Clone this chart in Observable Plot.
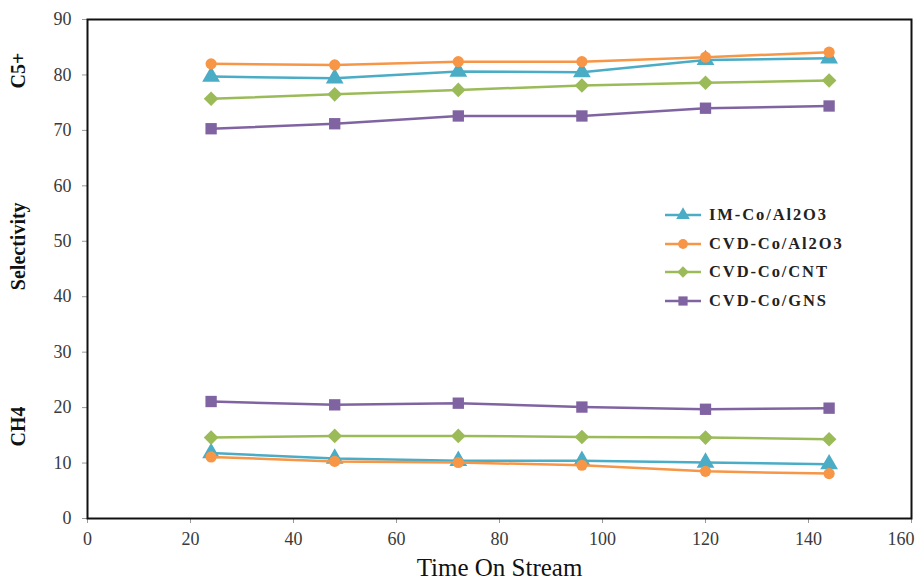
<!DOCTYPE html>
<html><head><meta charset="utf-8">
<script src="https://cdn.jsdelivr.net/npm/d3@7"></script>
<script src="https://cdn.jsdelivr.net/npm/@observablehq/plot@0.6"></script>
<style>
body{margin:0;background:#fff;}
#wrap{position:relative;width:915px;height:582px;font-family:"Liberation Serif","Times New Roman",serif;}
#legend{position:absolute;left:664px;top:201px;}
.li{display:flex;align-items:center;height:28.5px;font-size:16.5px;font-weight:bold;letter-spacing:1.9px;color:#222;}
.li svg{margin-right:7px;}
</style>
</head><body><div id="wrap"><div id="legend"></div></div>
<script>
const times = [24, 48, 72, 96, 120, 144];
const series = ["IM-Co/Al2O3", "CVD-Co/Al2O3", "CVD-Co/CNT", "CVD-Co/GNS"];
const colors = ["#4bacc6", "#f79646", "#9bbb59", "#8064a2"];
const symbols = ["triangle", "circle", "diamond2", "square"];
const markerR = [6.6, 5.6, 6.6, 6.4];
// C5+ selectivity
const c5_IM = [79.7, 79.4, 80.6, 80.5, 82.7, 83.0];
const c5_CVDAl = [82.0, 81.8, 82.4, 82.4, 83.2, 84.1];
const c5_CNT = [75.7, 76.5, 77.3, 78.1, 78.6, 79.0];
const c5_GNS = [70.3, 71.2, 72.6, 72.6, 74.0, 74.4];
// CH4 selectivity
const ch4_IM = [11.8, 10.8, 10.4, 10.4, 10.1, 9.8];
const ch4_CVDAl = [11.1, 10.3, 10.1, 9.6, 8.5, 8.1];
const ch4_CNT = [14.6, 14.9, 14.9, 14.7, 14.6, 14.3];
const ch4_GNS = [21.1, 20.5, 20.8, 20.1, 19.7, 19.9];
const xTicks = [0, 20, 40, 60, 80, 100, 120, 140, 160];
const yTicks = [0, 10, 20, 30, 40, 50, 60, 70, 80, 90];
const yTitles = ["C5+", "Selectivity", "CH4"];
const yTitleAt = [80.8, 49.1, 16.6];
const xTitle = "Time On Stream";

const c5 = [c5_IM, c5_CVDAl, c5_CNT, c5_GNS];
const ch4 = [ch4_IM, ch4_CVDAl, ch4_CNT, ch4_GNS];
const rows = [];
series.forEach((s, i) => {
  times.forEach((t, j) => {
    rows.push({series: s, group: "C5+", t, v: c5[i][j], r: markerR[i]});
  });
  times.forEach((t, j) => {
    rows.push({series: s, group: "CH4", t, v: ch4[i][j], r: markerR[i]});
  });
});

const marks = [];
series.forEach((s) => {
  const d = rows.filter(r => r.series === s);
  marks.push(Plot.line(d, {x: "t", y: "v", z: "group", stroke: "series", strokeWidth: 2.5}));
  marks.push(Plot.dot(d, {x: "t", y: "v", fill: "series", symbol: "series", r: "r", stroke: "none"}));
});

const lastX = xTicks[xTicks.length - 1];
const axisStyle = {fontSize: 18, label: null, stroke: "#999", fill: "#3a3a3a"};

const chart = Plot.plot({
  width: 915, height: 582,
  marginLeft: 87, marginRight: 4, marginTop: 19, marginBottom: 64,
  style: {fontFamily: "'Liberation Serif','Times New Roman',serif", background: "white"},
  x: {domain: [0, 160]},
  y: {domain: [0, 90]},
  r: {type: "identity"},
  color: {domain: series, range: colors},
  symbol: {domain: series, range: symbols},
  marks: [
    Plot.axisY({ticks: yTicks, tickSize: 5, tickPadding: 11, ...axisStyle}),
    Plot.axisX({ticks: xTicks, tickSize: 5, tickPadding: 9, tickFormat: d => d === lastX ? "" : d, ...axisStyle}),
    Plot.axisX([lastX], {tickSize: 0, tickPadding: 14, textAnchor: "end", dx: 3, ...axisStyle}),
    ...marks,
    Plot.frame({stroke: "#111", strokeWidth: 2}),
    Plot.text(yTitles, {y: (d, i) => yTitleAt[i], text: d => d, frameAnchor: "left", textAnchor: "middle", dx: -69, rotate: -90, fontSize: 20, fontWeight: "bold", fill: "#111"}),
    Plot.text([xTitle], {frameAnchor: "bottom", textAnchor: "middle", dy: 57, fontSize: 25, fill: "#111"})
  ]
});
document.getElementById("wrap").prepend(chart);

// legend
const lg = d3.select("#legend");
const symMap = {triangle: d3.symbolTriangle, circle: d3.symbolCircle, diamond2: d3.symbolDiamond2, square: d3.symbolSquare};
const legendSize = [80, 75, 85, 85];
series.forEach((s, i) => {
  const row = lg.append("div").attr("class", "li");
  const svg = row.append("svg").attr("width", 38).attr("height", 18);
  svg.append("line").attr("x1", 1).attr("x2", 37).attr("y1", 9).attr("y2", 9).attr("stroke", colors[i]).attr("stroke-width", 2.5);
  svg.append("path").attr("transform", "translate(19,9)").attr("d", d3.symbol(symMap[symbols[i]], legendSize[i])()).attr("fill", colors[i]);
  row.append("span").text(s);
});
</script>
</body></html>
